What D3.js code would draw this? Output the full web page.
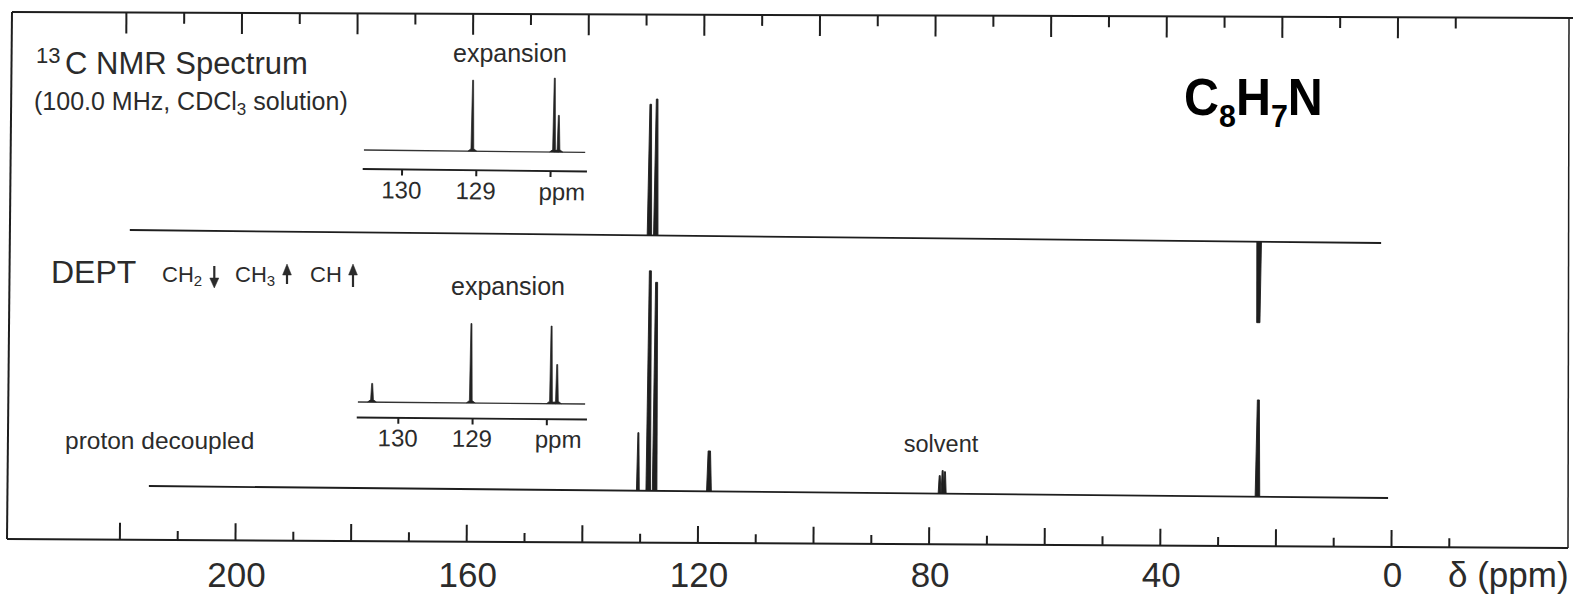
<!DOCTYPE html>
<html><head><meta charset="utf-8">
<script src="https://cdn.jsdelivr.net/npm/d3@7"></script>
<style>
html,body{margin:0;padding:0;background:#fff;}
svg{display:block;}
text{font-family:"Liberation Sans",Arial,Helvetica,sans-serif;fill:#2b2b2b;}
</style>
</head><body>
<svg id="c" width="1573" height="596"></svg>
<script>
// ================= DATA =================
const majorTicks = [220,200,180,160,140,120,100,80,60,40,20,0];
const minorTicks = [210,190,170,150,130,110,90,70,50,30,10,-10];
const axisLabelValues = [200,160,120,80,40,0];
const axisLabels = ["200","160","120","80","40","0"];

// DEPT spectrum (relative intensity, negative = down)
const deptSpan = [218.2, 1.7];
const deptPpm = [128.3, 127.2, 22.8];
const deptInt = [59.6, 62.0, -36.8];

// proton decoupled spectrum
const decSpan = [214.9, 0.5];
const decPpm = [130.3, 128.5, 127.4, 118.0, 78.1, 77.6, 77.2, 23.1];
const decInt = [26.4, 100, 94.8, 18.4, 8.2, 10.5, 10.0, 44.0];

// expansions
const expTicks = [130, 129, 128];
const expTickLabels = ["130", "129", "ppm"];
const exp1Span = [130.51, 127.53];
const exp1Ppm = [129.05, 127.95, 127.89];
const exp1Int = [88.8, 92.5, 46.0];
const exp2Span = [130.54, 127.48];
const exp2Ppm = [130.35, 129.02, 127.94, 127.86];
const exp2Int = [23.4, 99.3, 97.0, 49.0];

// ================= DRAW =================
const INK = "#1e1e1e";
const svg = d3.select("#c");
svg.append("rect").attr("width",1573).attr("height",596).attr("fill","#fff");

const x = d3.scaleLinear().domain([200, 0]).range([235, 1391]);
const hMain = d3.scaleLinear().domain([0, 100]).range([0, 220]);
const hExp = d3.scaleLinear().domain([0, 100]).range([0, 80]);

// frame
const frame = svg.append("g").attr("fill","none").attr("stroke",INK).attr("stroke-width",2);
frame.append("path").attr("d","M12,12 L1573,18");
frame.append("path").attr("d","M7,539 L1568,548");
frame.append("path").attr("d","M12,12 L7,539");
frame.append("path").attr("d","M1569,18 L1568,548").attr("stroke-width",1.5);

function styleAxis(g){
  g.select(".domain").remove();
  g.selectAll(".tick line").attr("stroke",INK).attr("stroke-width",2);
}
// bottom axis ticks (pointing up)
const gB = svg.append("g").attr("transform","translate(0,539) rotate(0.33 7 0)");
gB.append("g").call(d3.axisTop(x).tickValues(majorTicks).tickSize(17).tickFormat("")).call(styleAxis);
gB.append("g").call(d3.axisTop(x).tickValues(minorTicks).tickSize(9).tickFormat("")).call(styleAxis);

// bottom axis labels (level)
const gBL = svg.append("g").attr("transform","translate(1,587)")
  .call(d3.axisBottom(x).tickValues(axisLabelValues).tickSize(0).tickPadding(0)
  .tickFormat((d,i)=>axisLabels[i]));
gBL.select(".domain").remove();
gBL.selectAll("text").attr("dy",null).attr("y",0).attr("font-size",35)
  .attr("font-family","Liberation Sans, Arial, sans-serif").attr("fill","#2b2b2b");
svg.append("text").attr("x",1448).attr("y",587).attr("font-size",35).text("δ (ppm)");

// top axis ticks (pointing down)
const gT = svg.append("g").attr("transform","translate(6.5,12) rotate(0.22 6 0)");
gT.append("g").call(d3.axisBottom(x).tickValues(majorTicks).tickSize(21).tickFormat("")).call(styleAxis);
gT.append("g").call(d3.axisBottom(x).tickValues(minorTicks).tickSize(11).tickFormat("")).call(styleAxis);

// peak shape helpers
function spike(px, base, h, hw, tw){
  return d3.line()([[px-hw, base],[px-tw, base-h],[px+tw, base-h],[px+hw, base]]);
}
function drawSpectrum(g, xs, span, baseY, ppm, ints, hs, hw, tw){
  g.append("path").attr("d", d3.line()([[xs(span[0]), baseY],[xs(span[1]), baseY]]))
    .attr("stroke",INK).attr("stroke-width",1.8).attr("fill","none");
  g.selectAll("path.pk").data(ppm).enter().append("path").attr("class","pk")
    .attr("d",(d,i)=>spike(xs(d), baseY, hs(ints[i]), hw(ints[i]), tw(ints[i])))
    .attr("fill",INK).attr("stroke",INK).attr("stroke-width",0.9).attr("stroke-linejoin","round");
}

// DEPT spectrum
const gD = svg.append("g").attr("transform","rotate(0.595 130 230)");
drawSpectrum(gD, x, deptSpan, 230, deptPpm, deptInt, hMain,
  v => v < 0 ? 2.3 : 2.2, v => v < 0 ? 1.6 : 0.8);

// proton decoupled spectrum (the mid-size nitrile peak is broader)
const broad = v => v > 15 && v < 20;
const gP = svg.append("g").attr("transform","rotate(0.555 149 486)");
drawSpectrum(gP, x, decSpan, 486, decPpm, decInt, hMain,
  v => v > 30 ? 2.3 : (broad(v) ? 2.4 : 1.4), v => v > 30 ? 1.0 : (broad(v) ? 1.2 : 0.5));

// expansions
function drawExpansion(rangeX, span, baseY, axisY, ppm, ints, rot, labelY){
  const xe = d3.scaleLinear().domain([130,128]).range(rangeX);
  const g = svg.append("g").attr("transform",`rotate(${rot} ${xe(span[0])} ${baseY})`);
  g.append("path").attr("d", d3.line()([[xe(span[0]), baseY],[xe(span[1]), baseY]]))
    .attr("stroke","#333").attr("stroke-width",1.3).attr("fill","none");
  g.selectAll("path.pk").data(ppm).enter().append("path").attr("class","pk")
    .attr("d",(d,i)=>{
      const px = xe(d), h = hExp(ints[i]);
      return d3.line()([[px-4.5, baseY],[px-1.4, baseY-2.5],[px-0.5, baseY-h],[px+0.5, baseY-h],[px+1.4, baseY-2.5],[px+4.5, baseY]]);
    })
    .attr("fill","#222").attr("stroke","#222").attr("stroke-width",0.7).attr("stroke-linejoin","round");
  g.append("path").attr("d", d3.line()([[xe(span[0])-1, axisY],[xe(span[1])+2, axisY]]))
    .attr("stroke",INK).attr("stroke-width",1.8).attr("fill","none");
  const ga = g.append("g").attr("transform",`translate(0,${axisY})`)
    .call(d3.axisBottom(xe).tickValues(expTicks).tickSize(6).tickFormat(""));
  ga.select(".domain").remove();
  ga.selectAll(".tick line").attr("stroke",INK).attr("stroke-width",2);
  g.selectAll("text.el").data(expTicks).enter().append("text").attr("class","el")
    .attr("x",(d,i)=> xe(d) + (expTickLabels[i]==="ppm" ? 12 : 0))
    .attr("y",labelY).attr("text-anchor","middle").attr("font-size",24)
    .text((d,i)=>expTickLabels[i]);
}
drawExpansion([401.8,550.3], exp1Span, 150, 169, exp1Ppm, exp1Int, 0.64, 198);
drawExpansion([398,546.5], exp2Span, 402, 417.5, exp2Ppm, exp2Int, 0.5, 446);

// ---------- texts ----------
svg.append("text").attr("x",36).attr("y",63).attr("font-size",22).text("13");
svg.append("text").attr("x",65).attr("y",74).attr("font-size",31).text("C NMR Spectrum");
const t2 = svg.append("text").attr("x",34).attr("y",110).attr("font-size",25);
t2.append("tspan").text("(100.0 MHz, CDCl");
t2.append("tspan").attr("font-size",17).attr("dy",5).text("3");
t2.append("tspan").attr("dy",-5).text(" solution)");

svg.append("text").attr("x",510).attr("y",62).attr("text-anchor","middle").attr("font-size",25).text("expansion");
svg.append("text").attr("x",508).attr("y",295).attr("text-anchor","middle").attr("font-size",25).text("expansion");

svg.append("text").attr("x",51).attr("y",283).attr("font-size",32).text("DEPT");
function chem(xp, main, sub){
  const t = svg.append("text").attr("x",xp).attr("y",282).attr("font-size",22);
  t.append("tspan").text(main);
  if (sub) t.append("tspan").attr("font-size",15).attr("dy",4).text(sub);
}
chem(162, "CH", "2");
chem(235, "CH", "3");
chem(310, "CH", null);
const arr = svg.append("g").attr("fill","#2b2b2b").attr("stroke","#2b2b2b");
arr.append("path").attr("d","M214.3,266 L214.3,280").attr("stroke-width",2.2);
arr.append("path").attr("d","M209.8,278 L218.8,278 L214.3,288 Z").attr("stroke-width",0.5);
arr.append("path").attr("d","M287,273 L287,284").attr("stroke-width",2.2);
arr.append("path").attr("d","M282.6,275 L291.4,275 L287,264 Z").attr("stroke-width",0.5);
arr.append("path").attr("d","M353,273 L353,287").attr("stroke-width",2.2);
arr.append("path").attr("d","M348.6,275 L357.4,275 L353,264 Z").attr("stroke-width",0.5);

svg.append("text").attr("x",65).attr("y",449).attr("font-size",24.5).text("proton decoupled");
svg.append("text").attr("x",941).attr("y",452).attr("text-anchor","middle").attr("font-size",23.5).text("solvent");

// formula
const f = svg.append("g").attr("transform","translate(1184,115) scale(0.95,1)");
const ft = f.append("text").attr("x",0).attr("y",0).attr("font-size",51).attr("font-weight","bold").style("fill","#000");
ft.append("tspan").style("fill","#000").text("C");
ft.append("tspan").style("fill","#000").attr("font-size",32).attr("dy",12).text("8");
ft.append("tspan").style("fill","#000").attr("dy",-12).text("H");
ft.append("tspan").style("fill","#000").attr("font-size",32).attr("dy",12).text("7");
ft.append("tspan").style("fill","#000").attr("dy",-12).text("N");
</script>
</body></html>
